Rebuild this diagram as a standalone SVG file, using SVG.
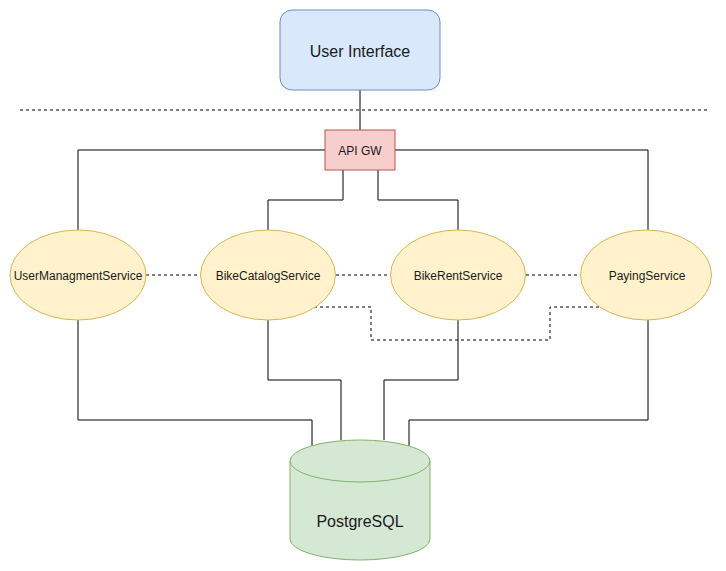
<svg xmlns="http://www.w3.org/2000/svg" width="726" height="571" viewBox="0 0 726 571">
<style>
.t{font-family:"Liberation Sans",Arial,sans-serif;fill:#1a1a1a;text-anchor:middle;dominant-baseline:central}
.c{fill:none;stroke:#000;stroke-width:1}
.d{fill:none;stroke:#000;stroke-width:1;stroke-dasharray:3,3}
.svc{fill:#fff2cc;stroke:#d6b656}
</style>
<rect width="726" height="571" fill="#fff"/>
<line class="d" x1="20" y1="110" x2="710" y2="110"/>
<g id="connectors">
<path class="c" d="M360 90V130"/>
<path class="c" d="M325 150H78V230"/>
<path class="c" d="M395 150H648V230"/>
<path class="c" d="M343 170V200H268V230"/>
<path class="c" d="M378 170V200H458V230"/>
<path class="d" d="M146 275H201"/>
<path class="d" d="M336 275H391"/>
<path class="d" d="M526 275H581"/>
<path class="d" d="M314 307H371V340H550V307H601"/>
<path class="c" d="M78 320V420H312V446"/>
<path class="c" d="M268 320V380H341V440"/>
<path class="c" d="M458 320V380H384V440"/>
<path class="c" d="M648 320V420H409V446"/>
</g>
<g id="ui">
<rect x="280" y="10" width="160" height="80" rx="12" fill="#dae8fc" stroke="#6c8ebf"/>
<text class="t" x="360" y="51" font-size="16">User Interface</text>
</g>
<g id="apigw">
<rect x="325" y="130" width="70" height="40" fill="#f8cecc" stroke="#b85450"/>
<text class="t" x="360" y="151" font-size="12">API GW</text>
</g>
<g id="usermgmt">
<ellipse class="svc" cx="78" cy="275" rx="68" ry="45"/>
<text class="t" x="78" y="276" font-size="12">UserManagmentService</text>
</g>
<g id="bikecatalog">
<ellipse class="svc" cx="268" cy="275" rx="67.5" ry="45"/>
<text class="t" x="268" y="276" font-size="12">BikeCatalogService</text>
</g>
<g id="bikerent">
<ellipse class="svc" cx="458" cy="275" rx="67.5" ry="45"/>
<text class="t" x="458" y="276" font-size="12">BikeRentService</text>
</g>
<g id="paying">
<ellipse class="svc" cx="646" cy="275" rx="65.5" ry="45"/>
<text class="t" x="647" y="276" font-size="12">PayingService</text>
</g>
<g id="postgres">
<path d="M290 461A70 21 0 0 1 430 461V539A70 21 0 0 1 290 539Z" fill="#d5e8d4" stroke="#82b366"/>
<path d="M290 461A70 21 0 0 0 430 461" fill="none" stroke="#82b366"/>
<text class="t" x="360" y="521" font-size="16">PostgreSQL</text>
</g>
</svg>
